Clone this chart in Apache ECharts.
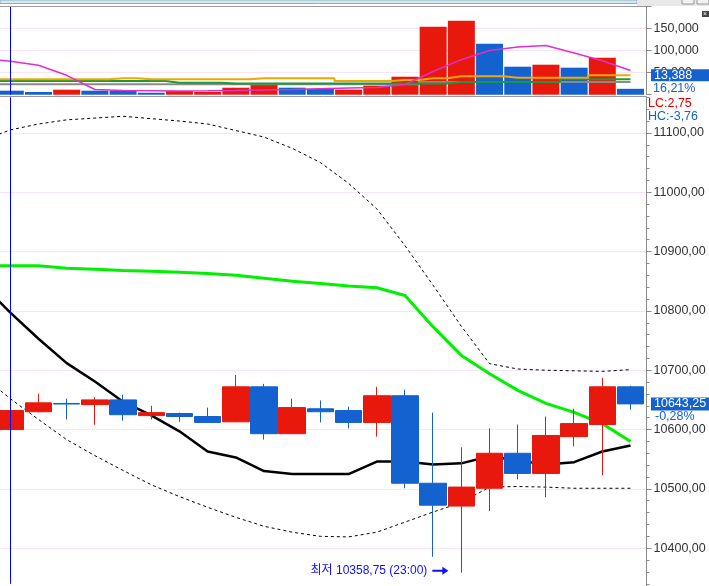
<!DOCTYPE html>
<html><head><meta charset="utf-8">
<script src="https://cdn.jsdelivr.net/npm/echarts@6/dist/echarts.min.js"></script>
<style>html,body{margin:0;padding:0;background:#fff;overflow:hidden}#c{width:709px;height:586px}</style>
</head><body><div id="c"></div>
<script>
// ---- data (index 0 is the bar just left of the visible window) ----
const categories = ['06:00','07:00','08:00','09:00','10:00','11:00','12:00','13:00','14:00','15:00','16:00','17:00','18:00','19:00','20:00','21:00','22:00','23:00','00:00','01:00','02:00','03:00','04:00','05:00'];
const openP  = [null,10600,10630,10644,10642,10650,10623.5,10627,10622,10613,10672,10593,10635,10632,10612,10657,10509.5,10471,10501,10560,10526,10588,10608.5,10672];
const closeP = [null,10632,10645,10643,10650,10625,10628.5,10622,10612,10672,10593,10637,10630,10612,10657,10509.5,10472.5,10503,10560,10526,10590,10610,10672,10643.25];
const lowP   = [null,10599,10629,10617,10608,10615,10617,10613,10611.5,10612.5,10583,10592.5,10612,10602,10588,10501,10385.5,10358.75,10462.5,10516,10486,10571.5,10523,10633.5];
const highP  = [null,10633,10660,10652,10654,10659,10640,10628.5,10637,10692,10677,10652,10649,10638.5,10672,10667,10628.5,10570,10602,10608.5,10622,10635,10687,10674];
const upperBand = [11087,11105,11115,11122,11125,11128,11124,11120,11115,11104,11093,11074,11050,11015,10972,10910,10843,10774,10711,10702,10700,10699,10698,10701];
const lowerBand = [10691,10652,10617,10583,10556,10531,10507,10487,10469,10452,10437,10427,10420,10419,10427,10444,10461,10477,10503,10504,10503,10501,10501,10501];
const greenMA   = [10876,10876,10876,10872,10870,10868,10867,10865,10863,10860,10855,10850,10846,10842,10839,10826,10773,10725,10694,10666,10644,10629,10610,10580];
const blackMA   = [10845,10797,10753,10712,10681,10647,10624,10597,10563,10553,10530,10525,10525,10525,10546,10546,10541,10543,10555,10548,10541,10545,10563,10573];
const volumes   = [null,9100,6100,11400,9100,8600,4500,8400,6100,15900,22700,15900,13600,11400,20500,40900,154600,168200,115900,63600,68200,61400,84100,13388];
const volumeDir = [0,-1,-1,1,-1,-1,-1,1,1,1,1,-1,-1,1,1,1,1,1,-1,-1,1,-1,1,-1];
const volMagenta = [82300,75900,66800,44100,11800,9500,9100,8600,8900,9500,10700,11800,13600,15200,16400,23200,52700,79600,100500,108400,111800,94800,77300,55000];
const volOrange  = [35000,35000,35000,35000,35000,37300,35000,35000,35000,35000,37300,37300,37300,31100,31100,33400,37300,41800,41800,38600,38600,38600,44100,44100];
const volGreen   = [31100,31100,31100,31100,31100,31100,31100,27300,27300,25500,25500,25500,25500,25500,25500,25500,25500,28900,28900,28900,28900,35000,35000,35000];
const volGray    = [23600,23600,23600,23600,23600,23600,23600,23600,23600,23600,23600,23600,23600,23600,23600,23600,28600,28600,28600,28600,28600,28600,28600,28600];
const priceTicks = [10400,10500,10600,10700,10800,10900,11000,11100];
const volumeTicks = [50000,100000,150000];
const cursorIndex = 1;
const lowIndex = 17;
const lowText = '최저 10358,75 (23:00)';
const lcValue = 2.75, hcValue = -3.76, pricePct = -0.28, volPct = 16.21;

// ---- styles ----
const RED = '#e8190c', BLUE = '#1462cf';
const FONT = "'Liberation Sans',Arial,sans-serif";
const FS = 12.5;
const AX = '#8c8c8c';
const fmtDec = (v, d) => v.toFixed(d).replace('.', ',');
const XMIN = 0.6346, XMAX = 23.5;

const chart = echarts.init(document.getElementById('c'), null, {renderer: 'canvas'});
const idx = arr => arr.map((v, i) => [i, v]);
const candleData = categories.map((c, i) => openP[i] == null ? null : [i, openP[i], closeP[i], lowP[i], highP[i]]).filter(Boolean);
const volData = categories.map((c, i) => volumes[i] == null ? null :
  {value: [i, volumes[i]], itemStyle: {color: volumeDir[i] > 0 ? RED : BLUE}}).filter(Boolean);

const cursorLine = () => ({
  silent: true, symbol: ['none', 'none'], animation: false,
  label: {show: false}, lineStyle: {color: '#0000ff', width: 1, type: 'solid'},
  data: [{xAxis: cursorIndex}]
});

const lineBase = (data, xi, yi, style, extra) => Object.assign({
  type: 'line', xAxisIndex: xi, yAxisIndex: yi, data: idx(data), symbol: 'none',
  lineStyle: style, silent: true, animation: false, z: 2
}, extra || {});

chart.setOption({
  animation: false,
  grid: [
    {left: 0, right: 64.4, top: 97.3, height: 486.5},
    {left: 0, right: 64.4, top: 6.7, height: 88}
  ],
  xAxis: [
    {type: 'value', gridIndex: 0, min: XMIN, max: XMAX, show: false},
    {type: 'value', gridIndex: 1, min: XMIN, max: XMAX, show: false}
  ],
  yAxis: [
    {type: 'value', gridIndex: 0, position: 'right', offset: 2, min: 10340, max: 11160, interval: 20,
     axisLine: {show: true, lineStyle: {color: AX}},
     axisTick: {show: true, length: 3, lineStyle: {color: AX}},
     splitLine: {show: false}, axisLabel: {show: false}},
    {type: 'value', gridIndex: 0, position: 'right', offset: 2, min: 10340, max: 11160,
     axisLine: {show: false},
     axisTick: {show: true, length: 5, customValues: priceTicks, lineStyle: {color: AX}},
     splitLine: {show: false},
     axisLabel: {margin: 7, color: '#333', fontFamily: FONT, fontSize: FS, customValues: priceTicks,
       formatter: v => fmtDec(v, 2)}},
    {type: 'value', gridIndex: 1, position: 'right', offset: 2, min: 0, max: 200000, interval: 50000,
     axisLine: {show: true, lineStyle: {color: AX}},
     axisTick: {show: true, length: 5, lineStyle: {color: AX}},
     splitLine: {show: true, lineStyle: {color: '#fbe3fb', width: 1}},
     axisLabel: {margin: 7, color: '#333', fontFamily: FONT, fontSize: FS,
       formatter: v => volumeTicks.indexOf(v) >= 0 ? v.toLocaleString('en-US') : ''}}
  ],
  series: [
    lineBase(upperBand, 0, 0, {color: '#000', width: 1, type: [3, 3]}, {
      markLine: {silent: true, z: 1, symbol: ['none', 'none'], animation: false, label: {show: false},
        lineStyle: {color: '#fbe3fb', width: 1, type: 'solid'},
        data: priceTicks.map(v => ({yAxis: v}))}
    }),
    lineBase(lowerBand, 0, 0, {color: '#000', width: 1, type: [3, 3]}),
    lineBase(greenMA, 0, 0, {color: '#00f000', width: 3}),
    lineBase(blackMA, 0, 0, {color: '#000', width: 2.5}),
    {type: 'candlestick', xAxisIndex: 0, yAxisIndex: 0, data: candleData, barWidth: 27, silent: true, z: 3,
     encode: {x: 0, y: [1, 2, 3, 4]},
     itemStyle: {color: RED, color0: BLUE, borderColor: RED, borderColor0: BLUE, borderWidth: 1},
     markLine: cursorLine(),
     markPoint: {
       silent: true,
       symbol: 'path://M0,3 L10,3 L10,0 L16,4 L10,8 L10,5 L0,5 Z',
       symbolSize: [16, 8], symbolOffset: [-21, -2],
       itemStyle: {color: '#1010f0'},
       label: {show: true, position: 'left', distance: 5, color: '#1010f0',
         fontFamily: "'Liberation Sans','Noto Sans CJK KR',sans-serif", fontSize: 12,
         formatter: lowText},
       data: [{coord: [lowIndex, lowP[lowIndex]]}]
     }},
    {type: 'bar', xAxisIndex: 1, yAxisIndex: 2, data: volData, barWidth: 27, silent: true, markLine: cursorLine()},
    lineBase(volGray, 1, 2, {color: '#8a8a8a', width: 2}, {step: 'middle', z: 3}),
    lineBase(volGreen, 1, 2, {color: '#1a9a3a', width: 2}, {step: 'middle', z: 3}),
    lineBase(volOrange, 1, 2, {color: '#f0a800', width: 2}, {step: 'middle', z: 3}),
    lineBase(volMagenta, 1, 2, {color: '#e030c8', width: 1.5}, {z: 3})
  ]
});

const last = categories.length - 1;
const yClose = chart.convertToPixel({yAxisIndex: 0}, closeP[last]);
const yVol = chart.convertToPixel({yAxisIndex: 2}, volumes[last]);
const txt = (x, y, text, color, extra) => ({type: 'text', x: x, y: y, z: 100, silent: true,
  style: Object.assign({text: text, fill: color, font: FS + 'px ' + FONT, textVerticalAlign: 'middle'}, extra || {})});

chart.setOption({graphic: [
  {type: 'rect', z: 100, silent: true, shape: {x: 0, y: 0, width: 637, height: 3.5}, style: {fill: '#cfeaf1', stroke: '#9ab', lineWidth: 1}},
  {type: 'rect', z: 100, silent: true, shape: {x: 637, y: 0, width: 72, height: 6}, style: {fill: '#e8e8e8'}},
  {type: 'rect', z: 100, silent: true, shape: {x: 682, y: -2, width: 12, height: 6}, style: {fill: '#f2f2f2', stroke: '#999'}},
  {type: 'rect', z: 100, silent: true, shape: {x: 697, y: -2, width: 12, height: 6}, style: {fill: '#f2f2f2', stroke: '#999'}},
  {type: 'line', z: 100, silent: true, shape: {x1: 0, y1: 6.5, x2: 647, y2: 6.5}, style: {stroke: '#9a9a9a', lineWidth: 1}},
  {type: 'line', z: 100, silent: true, shape: {x1: 0, y1: 96.5, x2: 647, y2: 96.5}, style: {stroke: '#9a9a9a', lineWidth: 1}},
  {type: 'line', z: 100, silent: true, shape: {x1: 646.5, y1: 583, x2: 646.5, y2: 586}, style: {stroke: AX, lineWidth: 1}},
  {type: 'rect', z: 100, silent: true, shape: {x: 702, y: 11, width: 7, height: 6}, style: {fill: '#444'}},
  txt(703, 14, '×', '#fff', {font: '7px sans-serif'}),
  {type: 'rect', z: 100, silent: true, shape: {x: 651, y: yVol - 19.5, width: 58, height: 12}, style: {fill: BLUE}},
  txt(654, yVol - 13.3, volumes[last].toLocaleString('en-US'), '#fff'),
  txt(653, yVol, fmtDec(volPct, 2) + '%', BLUE),
  txt(648, 104, 'LC:' + fmtDec(lcValue, 2), '#e00000'),
  txt(648, 117, 'HC:' + fmtDec(hcValue, 2), BLUE),
  {type: 'rect', z: 100, silent: true, shape: {x: 651, y: yClose - 6.5, width: 58, height: 13}, style: {fill: BLUE}},
  txt(654, yClose, fmtDec(closeP[last], 2), '#fff'),
  txt(655, yClose + 13, fmtDec(pricePct, 2) + '%', BLUE)
]});
</script>
</body></html>
